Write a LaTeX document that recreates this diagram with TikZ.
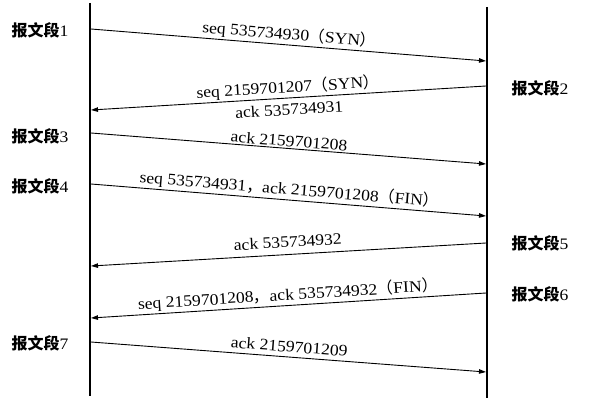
\documentclass[tikz,border=0pt]{standalone}
\usepackage{fontspec}
\setmainfont{Liberation Serif}[FakeStretch=1.1]
\newfontfamily\cjk{Noto Sans CJK SC}
\usetikzlibrary{arrows.meta}
\newcommand{\zlp}{{\cjk （}}
\newcommand{\zrp}{{\cjk ）}}
\newcommand{\zcm}{{\cjk ，}}
\newcommand{\segtxt}[1]{{\cjk\bfseries 报文段}{\rmfamily\mdseries #1}}
\begin{document}
\begin{tikzpicture}[x=1pt,y=-1pt,
  life/.style={line width=2.8pt},
  msg/.style={line width=0.9pt,-{Triangle[length=7pt,width=4.5pt]}},
  lbl/.style={font=\fontsize{16}{19}\selectfont, sloped, inner sep=1.5pt},
  seg/.style={font=\fontsize{16}{19}\selectfont, inner sep=0pt}]
\useasboundingbox (0,0) rectangle (612,414);
% lifelines
\coordinate (Lt) at (90,3);  \coordinate (Lb) at (90,396);
\coordinate (Rt) at (487,7); \coordinate (Rb) at (487,398);
\draw[life] (Lt) -- (Lb);
\draw[life] (Rt) -- (Rb);
% segment labels
\node[seg] (s1) at (40,30)  {\segtxt{1}};
\node[seg] (s2) at (540,88) {\segtxt{2}};
\node[seg] (s3) at (40,136) {\segtxt{3}};
\node[seg] (s4) at (40,186) {\segtxt{4}};
\node[seg] (s5) at (540,243) {\segtxt{5}};
\node[seg] (s6) at (540,294) {\segtxt{6}};
\node[seg] (s7) at (40,343) {\segtxt{7}};
% message endpoints
\coordinate (m1s) at (91,29);   \coordinate (m1e) at (486,61);
\coordinate (m2s) at (486,86);  \coordinate (m2e) at (91,110);
\coordinate (m3s) at (91,133);  \coordinate (m3e) at (486,164);
\coordinate (m4s) at (91,184);  \coordinate (m4e) at (486,216);
\coordinate (m5s) at (486,243); \coordinate (m5e) at (91,266);
\coordinate (m6s) at (486,293); \coordinate (m6e) at (91,318);
\coordinate (m7s) at (91,342);  \coordinate (m7e) at (486,372);
% messages
\draw[msg] (m1s) -- node[lbl,above] {seq 535734930\zlp SYN\zrp} (m1e);
\draw[msg] (m2s) -- node[lbl,above] {seq 2159701207\zlp SYN\zrp}
                    node[lbl,below=4pt] {ack 535734931} (m2e);
\draw[msg] (m3s) -- node[lbl,above] {ack 2159701208} (m3e);
\draw[msg] (m4s) -- node[lbl,above] {seq 535734931\zcm ack 2159701208\zlp FIN\zrp} (m4e);
\draw[msg] (m5s) -- node[lbl,above=5pt] {ack 535734932} (m5e);
\draw[msg] (m6s) -- node[lbl,above] {seq 2159701208\zcm ack 535734932\zlp FIN\zrp} (m6e);
\draw[msg] (m7s) -- node[lbl,above=3pt] {ack 2159701209} (m7e);
\end{tikzpicture}
\end{document}
